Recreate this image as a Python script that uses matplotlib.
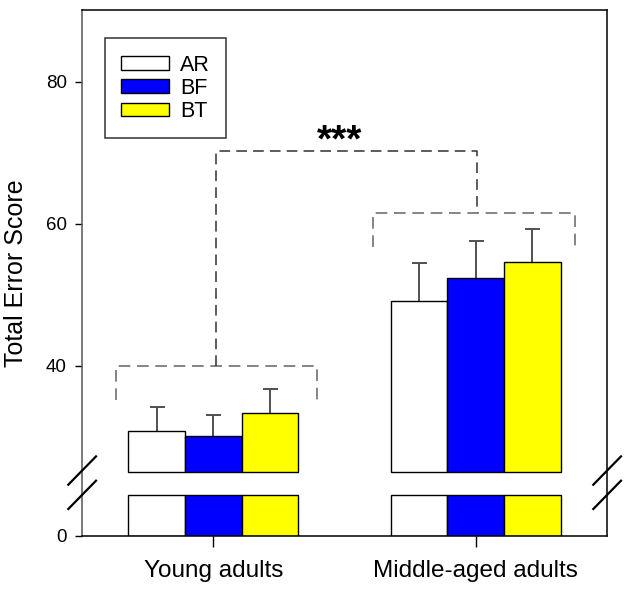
import numpy as np
import matplotlib
matplotlib.use("Agg")
import matplotlib.pyplot as plt

plt.rcParams['font.family'] = ['Liberation Sans', 'DejaVu Sans']

# data
groups = ["Young adults", "Middle-aged adults"]
conditions = ["AR", "BF", "BT"]
colors = ["white", "#0000ff", "#ffff00"]
means = np.array([[30.8, 30.1, 33.3],
                  [49.1, 52.3, 54.6]])
errs = np.array([[3.4, 3.0, 3.4],
                 [5.4, 5.3, 4.7]])
yticks = [0, 40, 60, 80]

# broken axis: 0..LOW_TOP shown, then a gap, then HIGH_BOT..YMAX
LOW_TOP = 5.83
HIGH_BOT = 25.0
GAP = 3.18
YMAX = 90.1

def forward(y):
    y = np.asarray(y, dtype=float)
    mid = LOW_TOP + (y - LOW_TOP) / (HIGH_BOT - LOW_TOP) * GAP
    hi = y - HIGH_BOT + LOW_TOP + GAP
    return np.where(y <= LOW_TOP, y, np.where(y >= HIGH_BOT, hi, mid))

def inverse(t):
    t = np.asarray(t, dtype=float)
    mid = LOW_TOP + (t - LOW_TOP) / GAP * (HIGH_BOT - LOW_TOP)
    hi = t + HIGH_BOT - LOW_TOP - GAP
    return np.where(t <= LOW_TOP, t, np.where(t >= LOW_TOP + GAP, hi, mid))

fig = plt.figure(figsize=(6.3, 5.91), dpi=100)
ax = fig.add_axes([82/630, 1-536/591, 525/630, 526/591])
ax.set_yscale('function', functions=(forward, inverse))
ax.set_ylim(0, YMAX)
ax.set_xlim(-0.5, 1.5)

width = 0.216
x = np.arange(len(groups))
for i, cond in enumerate(conditions):
    xs = x + (i - 1) * width
    # lower piece and upper piece of each bar
    ax.bar(xs, LOW_TOP, width=width, bottom=0, color=colors[i],
           edgecolor='black', linewidth=1, zorder=2)
    ax.bar(xs, means[:, i] - HIGH_BOT, width=width, bottom=HIGH_BOT,
           color=colors[i], edgecolor='black', linewidth=1, zorder=2,
           label=cond)
    eb = ax.errorbar(xs, means[:, i], yerr=[np.zeros(len(groups)), errs[:, i]],
                     fmt='none', ecolor='#505050', elinewidth=1.4,
                     capsize=5.4, capthick=1.4, zorder=1)
    eb[1][0].set_visible(False)  # no cap at the bar top

# significance brackets
def dashed(xx, yy, color, lw=1.1):
    ax.plot(xx, yy, color=color, lw=lw, dashes=(7, 4), zorder=3,
            solid_capstyle='butt', dash_capstyle='butt')

ytop = (means + errs).max(axis=1)
lvl = [ytop[0] + 3.2, ytop[1] + 2.15]
legs = [(lvl[0] - 4.7, lvl[0] - 5.3), (lvl[1] - 4.8, lvl[1] - 5.2)]
xl = [x[0] - 1.5 * width - 0.048, x[1] - 1.5 * width - 0.066]
xr = [x[0] + 1.5 * width + 0.07, x[1] + 1.5 * width + 0.053]
for g in range(2):
    dashed([xl[g], xl[g], xr[g], xr[g]],
           [legs[g][0], lvl[g], lvl[g], legs[g][1]], '#707070', 1.2)
top = 70.2
dashed([x[0] + 0.01, x[0] + 0.01, x[1] + 0.004, x[1] + 0.004],
       [lvl[0], top, top, lvl[1]], '#303030', 1.1)
ax.text(0.483, top - 0.1, "***", ha='center', va='baseline', fontsize=28,
        fontweight='bold')

# break marks on both side spines
for xa in (0.0, 1.0):
    for dy in (0.0, 24.3 / 526):
        ax.plot([xa - 13.7 / 525, xa + 14 / 525],
                [(536 - 509) / 526 + dy, (536 - 480.7) / 526 + dy],
                transform=ax.transAxes, color='black', lw=1.6,
                clip_on=False, zorder=5)

ax.set_yticks(yticks)
ax.set_yticklabels([str(t) for t in yticks])
ax.yaxis.set_minor_locator(matplotlib.ticker.NullLocator())
ax.set_xticks(x)
ax.set_xticklabels(groups, fontsize=17.5)
ax.tick_params(axis='y', direction='out', length=5, width=1, labelsize=13.5,
               pad=6)
ax.tick_params(axis='x', direction='out', length=8, width=1, pad=9)
ax.set_ylabel("Total Error Score", fontsize=18, labelpad=13)
ax.spines['left'].set_color('#555555')
for s in ax.spines.values():
    s.set_linewidth(1.1)

leg = ax.legend(loc='upper left', bbox_to_anchor=(0.0438, 0.946),
                fontsize=15.5, frameon=True, fancybox=False,
                handlelength=2.2, handleheight=0.58, handletextpad=0.55,
                labelspacing=0.1, borderpad=0.75, borderaxespad=0)
leg.get_frame().set_edgecolor('black')
leg.get_frame().set_linewidth(1.1)

fig.savefig("out.png", dpi=100)
